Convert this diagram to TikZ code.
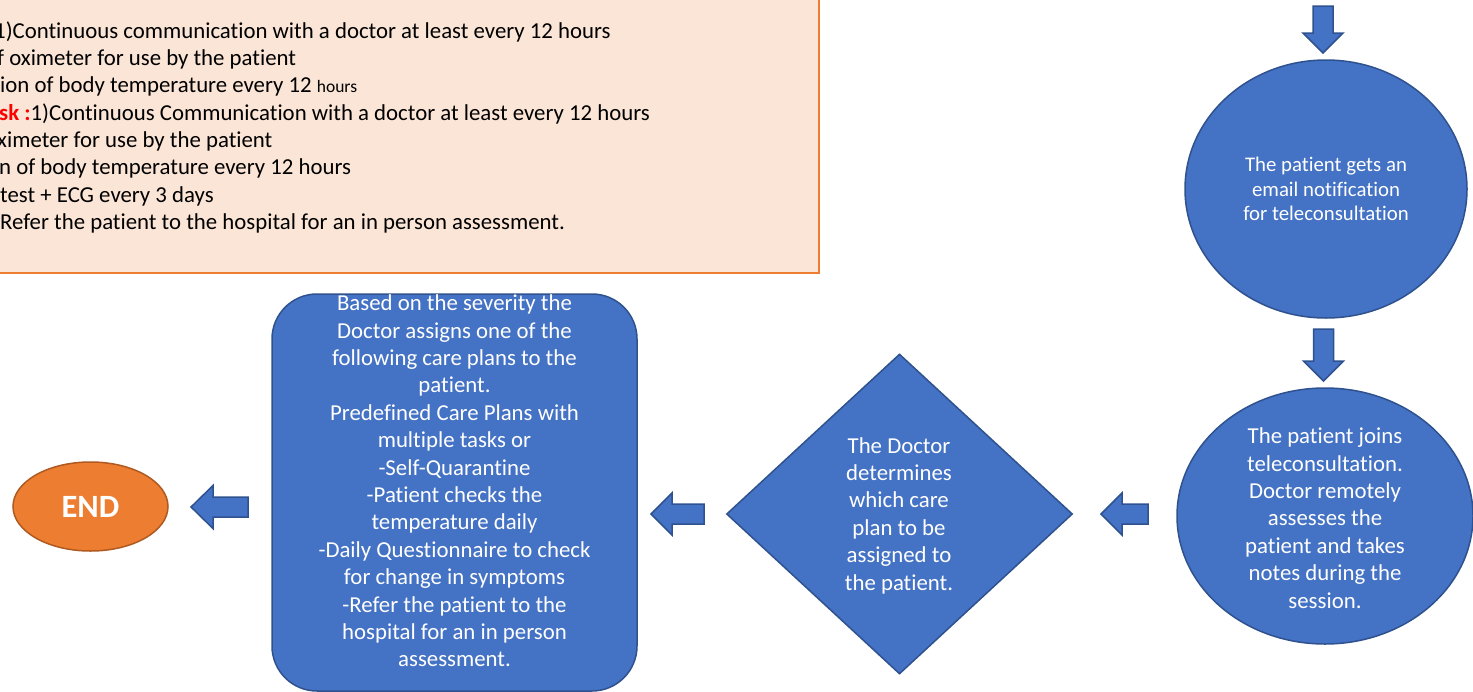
\documentclass[tikz,border=0pt]{standalone}
\usepackage{fontspec}
\setmainfont[Ligatures=NoCommon]{Carlito}
\usetikzlibrary{shapes.geometric}
\definecolor{blueF}{HTML}{4472C4}
\definecolor{blueD}{HTML}{2F528F}
\definecolor{orF}{HTML}{ED7D31}
\definecolor{orD}{HTML}{AE5A21}
\definecolor{peach}{HTML}{FBE5D6}
\newcommand\larr[5]{\draw[barrow] (#1,#2) -- (#3,#2-#5) -- (#3,#2-10) -- (#4,#2-10) -- (#4,#2+10) -- (#3,#2+10) -- (#3,#2+#5) -- cycle;}
\newcommand\darr[4]{\draw[barrow] (#1,#2) -- (#1+20,#3) -- (#1+10,#3) -- (#1+10,#4) -- (#1-10,#4) -- (#1-10,#3) -- (#1-20,#3) -- cycle;}
\begin{document}
\begin{tikzpicture}[x=1pt,y=-1pt,
  shapeblue/.style={fill=blueF,draw=blueD,line width=1.5pt,inner sep=0pt},
  barrow/.style={fill=blueF,draw=blueD,line width=1.5pt,line join=miter},
  wtext/.style={text=white,align=center,font=\fontsize{22.8}{27.4}\selectfont,inner sep=0pt},
  btext/.style={anchor=base west,inner sep=0pt,font=\fontsize{22.8}{27.4}\selectfont}]
\useasboundingbox (0,0) rectangle (1473,691);
\clip (0,0) rectangle (1473,691);
\fill[white] (0,0) rectangle (1473,691);
% notes box
\node[draw=orF,fill=peach,line width=2pt,inner sep=0pt,minimum width=839pt,minimum height=293pt] (notes) at (399.5,126.5) {};
\node[btext] (l1) at (-6,38) {1)Continuous communication with a doctor at least every 12 hours};
\node[btext] (l2) at (-3,65.3) {f oximeter for use by the patient};
\node[btext] (l3) at (0,92.6) {ion of body temperature every 12 {\fontsize{17.5}{20}\selectfont hours}};
\node[btext] (l4) at (-1,120) {\textcolor{red}{\bfseries sk :}1)Continuous Communication with a doctor at least every 12 hours};
\node[btext] (l5) at (-3,147.3) {ximeter for use by the patient};
\node[btext] (l6) at (-1,174.6) {n of body temperature every 12 hours};
\node[btext] (l7) at (0,202) {test + ECG every 3 days};
\node[btext] (l8) at (0,229.3) {Refer the patient to the hospital for an in person assessment.};
% circles
\node[shapeblue,ellipse,minimum width=282pt,minimum height=258pt] (c1) at (1326,189) {};
\node[wtext,font=\fontsize{20.8}{24.5}\selectfont] (c1t) at (c1.center) {The patient gets an\\email notification\\for teleconsultation};
\node[shapeblue,ellipse,minimum width=296pt,minimum height=256pt] (c2) at (1325,516) {};
\node[wtext] (c2t) at (1325,518) {The patient joins\\teleconsultation.\\Doctor remotely\\assesses the\\patient and takes\\notes during the\\session.};
% diamond
\node[shapeblue,diamond,minimum width=346pt,minimum height=320pt] (dia) at (899.5,514) {};
\node[wtext] (diat) at (899,515.5) {The Doctor\\determines\\which care\\plan to be\\assigned to\\the patient.};
% rounded rect
\node[shapeblue,rectangle,rounded corners=45pt,minimum width=365pt,minimum height=397pt] (plan) at (454.5,492.5) {};
\node[wtext] (plant) at (454.5,481) {Based on the severity the\\Doctor assigns one of the\\following care plans to the\\patient.\\Predefined Care Plans with\\multiple tasks or\\-Self-Quarantine\\-Patient checks the\\temperature daily\\-Daily Questionnaire to check\\for change in symptoms\\-Refer the patient to the\\hospital for an in person\\assessment.};
% END
\node[ellipse,fill=orF,draw=orD,line width=1.5pt,inner sep=0pt,minimum width=155pt,minimum height=89pt,text=white,font=\fontsize{32.5}{36}\selectfont\bfseries] (end) at (90.5,506.5) {END};
% arrows
\darr{1323}{53}{33}{6}
\darr{1323.5}{381}{361}{329}
\larr{1101}{514}{1122}{1148}{21}
\larr{651}{514}{672}{704}{21}
\larr{191}{507}{213}{248}{21.5}
\end{tikzpicture}
\end{document}
